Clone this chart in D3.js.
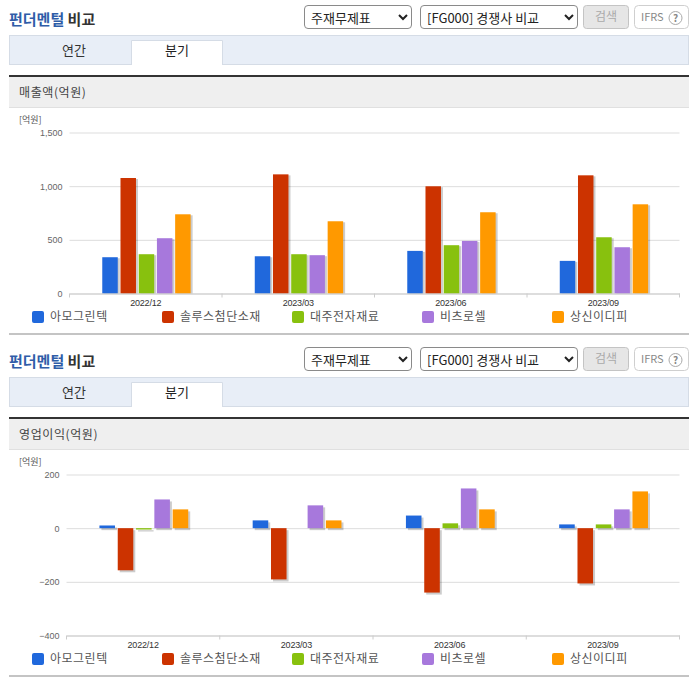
<!DOCTYPE html>
<html>
<head>
<meta charset="utf-8">
<script src="https://cdn.jsdelivr.net/npm/d3@7"></script>
<style>
  body { margin: 0; background: #fff; font-family: "Noto Sans CJK KR", "Noto Sans", sans-serif; }
  #page { position: relative; width: 696px; height: 684px; overflow: hidden; }
  select { position: absolute; height: 24px; font: 13px "Noto Sans CJK KR", sans-serif; color: #222;
    background: #fff; border: 1px solid #8a8a8a; border-radius: 4px; padding-left: 2px; }
  svg { position: absolute; left: 0; top: 0; }
</style>
</head>
<body>
<div id="page"></div>
<script>
// categories and series
var periods = ["2022/12", "2023/03", "2023/06", "2023/09"]
var companies = ["아모그린텍", "솔루스첨단소재", "대주전자재료", "비츠로셀", "상신이디피"]
var colors = ["#2068dc", "#cc3300", "#88c10e", "#a778dc", "#ff9900"]

var salesAmo = [338, 347, 397, 304]
var salesSolus = [1076, 1110, 999, 1101]
var salesDaejoo = [366, 366, 450, 524]
var salesVitzro = [515, 357, 490, 431]
var salesSangsin = [738, 673, 757, 831]
var salesTicks = [0, 500, 1000, 1500]

var profitAmo = [10, 29, 47, 14]
var profitSolus = [-157, -191, -240, -206]
var profitDaejoo = [-5, 0, 18, 14]
var profitVitzro = [107, 85, 148, 70]
var profitSangsin = [70, 29, 70, 137]
var profitTicks = [-400, -200, 0, 200]

var page = d3.select("#page")
var svg = page.append("svg").attr("width", 696).attr("height", 684)

function panel(top, title, series, ticks, plot) {
  var g = svg.append("g").attr("transform", "translate(0," + top + ")")

  // heading
  var head = g.append("text").attr("x", 9).attr("y", 25)
    .style("font-size", "15px").style("font-weight", 700)
  head.append("tspan").attr("fill", "#2f5da8").text("펀더멘털")
  head.append("tspan").attr("fill", "#333").text(" 비교")

  // controls
  page.append("select").style("left", "304px").style("top", (top + 5) + "px").style("width", "108px")
    .append("option").text("주재무제표")
  page.append("select").style("left", "420px").style("top", (top + 5) + "px").style("width", "158px")
    .append("option").text("[FG000] 경쟁사 비교")

  g.append("rect").attr("x", 583.5).attr("y", 5.5).attr("width", 45).attr("height", 23).attr("rx", 3)
    .attr("fill", "#e6e6e6").attr("stroke", "#c4c4c4")
  g.append("text").attr("x", 606).attr("y", 21).attr("text-anchor", "middle")
    .attr("fill", "#aaa").style("font-size", "12px").text("검색")
  g.append("rect").attr("x", 634.5).attr("y", 5.5).attr("width", 54).attr("height", 23).attr("rx", 4)
    .attr("fill", "#fff").attr("stroke", "#cfcfcf")
  g.append("text").attr("x", 641).attr("y", 21).attr("fill", "#888")
    .style("font-size", "11px").text("IFRS")
  g.append("circle").attr("cx", 675.5).attr("cy", 18).attr("r", 6.5)
    .attr("fill", "#fff").attr("stroke", "#aaa")
  g.append("text").attr("x", 675.5).attr("y", 22).attr("text-anchor", "middle").attr("fill", "#888")
    .style("font-size", "10px").style("font-weight", 700).text("?")

  // tabs
  g.append("rect").attr("x", 9.5).attr("y", 35.5).attr("width", 679).attr("height", 29)
    .attr("fill", "#e8eef7").attr("stroke", "#d5dce6")
  g.append("path").attr("d", "M131.5,65V40.5H222.5V65")
    .attr("fill", "#fff").attr("stroke", "#d5dce6")
  g.append("text").attr("x", 74).attr("y", 55).attr("text-anchor", "middle")
    .attr("fill", "#333").style("font-size", "13px").text("연간")
  g.append("text").attr("x", 177).attr("y", 55).attr("text-anchor", "middle")
    .attr("fill", "#222").style("font-size", "13px").text("분기")

  // section header
  g.append("rect").attr("x", 9).attr("y", 77).attr("width", 680).attr("height", 30).attr("fill", "#efefef")
  g.append("rect").attr("x", 9).attr("y", 107).attr("width", 680).attr("height", 1).attr("fill", "#e0e0e0")
  g.append("rect").attr("x", 9).attr("y", 75).attr("width", 680).attr("height", 2).attr("fill", "#333")
  g.append("text").attr("x", 19).attr("y", 97).attr("fill", "#444")
    .style("font-size", "12px").style("letter-spacing", "0.6px").text(title)
  g.append("text").attr("x", 19).attr("y", 123).attr("fill", "#555")
    .style("font-size", "9px").text("[억원]")

  // scales
  var x = d3.scaleBand().domain(periods).range([plot.left, plot.right])
  var inner = d3.scaleBand().domain(companies).range([0, x.bandwidth()]).paddingInner(0.15).paddingOuter(1.76)
  var y = d3.scaleLinear().domain(d3.extent(ticks)).range([plot.bottom, plot.top])

  // gridlines and value labels
  var yAxis = g.append("g").attr("transform", "translate(" + plot.left + ",0)")
    .call(d3.axisLeft(y).tickValues(ticks).tickSize(-(plot.right - plot.left)).tickPadding(plot.pad).tickFormat(d3.format(",")))
  yAxis.select(".domain").remove()
  yAxis.selectAll("line").attr("stroke", "#dddddd")
  yAxis.selectAll("text").attr("fill", "#666").style("font-size", "9px")
    .style("font-family", "'Liberation Sans', sans-serif")

  // bars with their shadow
  var groups = g.selectAll(".group").data(periods).enter().append("g")
    .attr("transform", function (d) { return "translate(" + (x(d) + 0.7) + ",0)" })
  series.forEach(function (values, s) {
    groups.append("rect")
      .attr("x", inner(companies[s]) + 2)
      .attr("y", function (d, i) { return Math.min(y(values[i]), y(0)) + (ticks[0] < 0 ? 2 : 1) })
      .attr("width", inner.bandwidth())
      .attr("height", function (d, i) { return values[i] == 0 ? 0 : Math.abs(y(values[i]) - y(0)) - (ticks[0] < 0 ? 0 : 1) })
      .attr("fill", "#000").attr("opacity", 0.2)
    groups.append("rect")
      .attr("x", inner(companies[s]))
      .attr("y", function (d, i) { return Math.min(y(values[i]), y(0)) })
      .attr("width", inner.bandwidth())
      .attr("height", function (d, i) { return Math.abs(y(values[i]) - y(0)) })
      .attr("fill", colors[s])
  })

  // category axis
  var xAxis = g.append("g").attr("transform", "translate(0," + plot.bottom + ")")
    .call(d3.axisBottom(x).tickSize(0).tickPadding(6))
  xAxis.select(".domain").attr("stroke", "#ccc")
  xAxis.selectAll("text").attr("fill", "#333").style("font-size", "9px").style("letter-spacing", "-0.2px")
    .style("font-family", "'Liberation Sans', sans-serif")
  periods.concat("end").forEach(function (d, i) {
    var tx = plot.left + i * x.step()
    g.append("line").attr("x1", tx).attr("x2", tx)
      .attr("y1", plot.bottom).attr("y2", plot.bottom + 4).attr("stroke", "#ccc")
  })

  // legend
  companies.forEach(function (name, i) {
    g.append("rect").attr("x", 32 + i * 130).attr("y", 311).attr("width", 12).attr("height", 12)
      .attr("rx", 2).attr("fill", colors[i])
    g.append("text").attr("x", 50 + i * 130).attr("y", 321).attr("fill", "#555")
      .style("font-size", "12px").style("letter-spacing", "0.5px").text(name)
  })

  g.append("rect").attr("x", 9).attr("y", 333).attr("width", 680).attr("height", 2).attr("fill", "#c4c4c4")
}

panel(0, "매출액(억원)", [salesAmo, salesSolus, salesDaejoo, salesVitzro, salesSangsin], salesTicks,
  { left: 69.5, right: 679.5, top: 132.5, bottom: 293.5, pad: 7 })
panel(342, "영업이익(억원)", [profitAmo, profitSolus, profitDaejoo, profitVitzro, profitSangsin], profitTicks,
  { left: 66.5, right: 679.5, top: 132.5, bottom: 293.5, pad: 7 })
</script>
</body>
</html>
